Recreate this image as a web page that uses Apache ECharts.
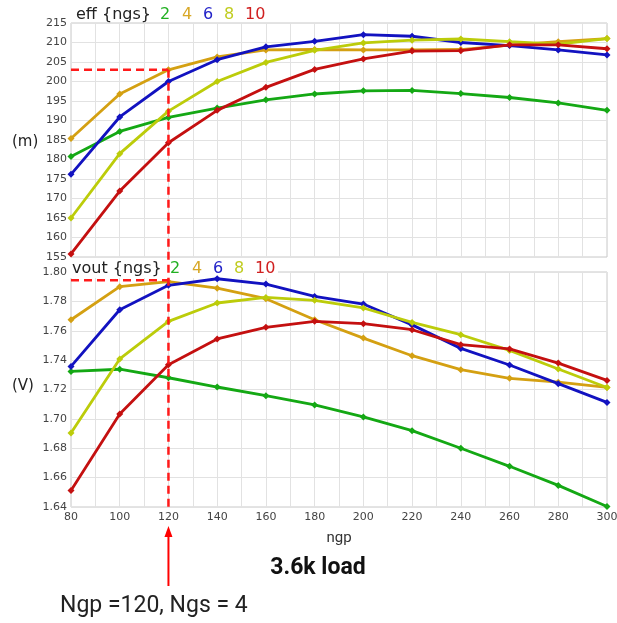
<!DOCTYPE html>
<html>
<head>
<meta charset="utf-8">
<script src="https://cdn.jsdelivr.net/npm/echarts@6/dist/echarts.min.js"></script>
<style>html,body{margin:0;padding:0;background:#fff}#c{width:617px;height:623px}</style>
</head>
<body>
<div id="c"></div>
<script>
// ---- data ----
const ngp = [80, 100, 120, 140, 160, 180, 200, 220, 240, 260, 280, 300];
const ngsLabels = ['2', '4', '6', '8', '10'];
const eff2  = [180.8, 187.2, 190.8, 193.2, 195.3, 196.8, 197.6, 197.7, 196.9, 195.9, 194.5, 192.6];
const eff4  = [185.4, 196.8, 203.0, 206.3, 208.1, 208.2, 208.1, 208.1, 208.2, 209.3, 210.2, 211.0];
const eff6  = [176.2, 190.9, 200.0, 205.6, 208.9, 210.3, 212.0, 211.6, 210.0, 209.2, 208.1, 206.8];
const eff8  = [165.0, 181.5, 192.4, 200.0, 204.9, 208.0, 209.9, 210.6, 210.9, 210.2, 209.6, 211.0];
const eff10 = [155.8, 171.9, 184.3, 192.6, 198.5, 203.1, 205.8, 207.8, 207.9, 209.4, 209.4, 208.4];
const vout2  = [1.7323, 1.7338, 1.7280, 1.7217, 1.7158, 1.7095, 1.7013, 1.6920, 1.6800, 1.6677, 1.6547, 1.6404];
const vout4  = [1.7675, 1.7900, 1.7934, 1.7890, 1.7818, 1.7675, 1.7550, 1.7430, 1.7335, 1.7276, 1.7250, 1.7214];
const vout6  = [1.7357, 1.7743, 1.7909, 1.7954, 1.7918, 1.7834, 1.7782, 1.7640, 1.7480, 1.7367, 1.7240, 1.7112];
const vout8  = [1.6904, 1.7408, 1.7664, 1.7789, 1.7827, 1.7807, 1.7755, 1.7657, 1.7573, 1.7466, 1.7340, 1.7214];
const vout10 = [1.6513, 1.7033, 1.7369, 1.7544, 1.7623, 1.7664, 1.7648, 1.7607, 1.7505, 1.7476, 1.7380, 1.7262];
const selNgp = 120, selEff = 203, selVout = 1.7943;

const colors = ['#14a814', '#d4a012', '#1212c0', '#bccc0a', '#c41010'];
const textColors = ['#22b022', '#d8a828', '#2222c8', '#c0cc20', '#d02020'];
const effSets = [eff2, eff4, eff6, eff8, eff10];
const voutSets = [vout2, vout4, vout6, vout8, vout10];

const chart = echarts.init(document.getElementById('c'));
const pair = (arr) => ngp.map((x, i) => [x, arr[i]]);

function xAx(gi, showLabel) {
  return {
    type: 'value', gridIndex: gi, min: 80, max: 300, interval: 20,
    name: showLabel ? 'ngp' : '', nameLocation: 'middle', nameGap: 24,
    nameTextStyle: { fontFamily: 'Roboto', fontSize: 15, color: '#333' },
    axisLine: { show: false }, axisTick: { show: false },
    axisLabel: { show: showLabel, fontFamily: 'DejaVu Sans', fontSize: 11, color: '#444', margin: 5 },
    splitLine: { show: true, lineStyle: { color: '#e2e2e2', width: 1 } },
    minorTick: { show: false, splitNumber: 2 },
    minorSplitLine: { show: true, lineStyle: { color: '#e2e2e2', width: 1 } }
  };
}
function yAx(gi, min, max, interval, fmt) {
  return {
    type: 'value', gridIndex: gi, min: min, max: max, interval: interval,
    axisLine: { show: false }, axisTick: { show: false },
    axisLabel: { fontFamily: 'DejaVu Sans', fontSize: 11, color: '#444', margin: 4, formatter: fmt },
    splitLine: { show: true, lineStyle: { color: '#e2e2e2', width: 1 } }
  };
}

const series = [];
effSets.forEach((d, i) => series.push({
  type: 'line', xAxisIndex: 0, yAxisIndex: 0, data: pair(d), name: 'eff' + ngsLabels[i],
  lineStyle: { color: colors[i], width: 2.8 }, itemStyle: { color: colors[i] },
  symbol: 'diamond', symbolSize: 7, showSymbol: true, animation: false, z: 3 + i
}));
voutSets.forEach((d, i) => series.push({
  type: 'line', xAxisIndex: 1, yAxisIndex: 1, data: pair(d), name: 'vout' + ngsLabels[i],
  lineStyle: { color: colors[i], width: 2.8 }, itemStyle: { color: colors[i] },
  symbol: 'diamond', symbolSize: 7, showSymbol: true, animation: false, z: 3 + i
}));

chart.setOption({
  animation: false,
  grid: [
    { left: 71, right: 10, top: 23, height: 234, show: true, borderColor: '#c8c8c8', borderWidth: 1, backgroundColor: 'transparent', containLabel: false, outerBoundsMode: 'none' },
    { left: 71, right: 10, top: 272, height: 235, show: true, borderColor: '#c8c8c8', borderWidth: 1, backgroundColor: 'transparent', containLabel: false, outerBoundsMode: 'none' }
  ],
  xAxis: [xAx(0, false), xAx(1, true)],
  yAxis: [
    yAx(0, 155, 215, 5, v => String(Math.round(v))),
    yAx(1, 1.64, 1.80, 0.02, v => v.toFixed(2))
  ],
  series: series
});

// ---- annotations ----
const p1 = chart.convertToPixel({ gridIndex: 0 }, [selNgp, selEff]);
const p0 = chart.convertToPixel({ gridIndex: 0 }, [80, selEff]);
const q1 = chart.convertToPixel({ gridIndex: 1 }, [selNgp, selVout]);
const q0 = chart.convertToPixel({ gridIndex: 1 }, [80, selVout]);
const qb = chart.convertToPixel({ gridIndex: 1 }, [selNgp, 1.64]);
const dash = { stroke: '#ff1a1a', lineWidth: 2.5, lineDash: [8, 5] };
const x = p1[0];

const graphics = [
  { type: 'rect', shape: { x: 70, y: 258, width: 208, height: 20 }, style: { fill: '#fff' }, z: 1 },
  { type: 'text', left: 76, top: 7, style: { text: 'eff {ngs}', fontFamily: 'DejaVu Sans', fontSize: 16, fill: '#222' }, z: 20 },
  { type: 'text', left: 72, top: 261, style: { text: 'vout {ngs}', fontFamily: 'DejaVu Sans', fontSize: 16, fill: '#222' }, z: 20 },
  { type: 'text', left: 12, top: 135, style: { text: '(m)', fontFamily: 'DejaVu Sans', fontSize: 15, fill: '#222' }, z: 20 },
  { type: 'text', left: 12, top: 379, style: { text: '(V)', fontFamily: 'DejaVu Sans', fontSize: 15, fill: '#222' }, z: 20 },
  { type: 'line', shape: { x1: p0[0], y1: p0[1], x2: p1[0], y2: p1[1] }, style: dash, z: 30 },
  { type: 'line', shape: { x1: q0[0], y1: q0[1], x2: q1[0], y2: q1[1] }, style: dash, z: 30 },
  { type: 'line', shape: { x1: x, y1: p1[1], x2: x, y2: qb[1] }, style: dash, z: 30 },
  { type: 'line', shape: { x1: x, y1: 586, x2: x, y2: 534 }, style: { stroke: '#ff0000', lineWidth: 2 }, z: 30 },
  { type: 'polygon', shape: { points: [[x, 526], [x - 4, 537], [x + 4, 537]] }, style: { fill: '#ff0000' }, z: 30 },
  { type: 'text', x: 318, y: 568, style: { text: '3.6k load', fontFamily: 'Roboto', fontWeight: 'bold', fontSize: 23, fill: '#111', align: 'center', verticalAlign: 'middle' }, z: 20 },
  { type: 'text', x: 60, y: 606, style: { text: 'Ngp =120, Ngs = 4', fontFamily: 'Roboto', fontSize: 23, fill: '#222', align: 'left', verticalAlign: 'middle' }, z: 20 }
];
const numX = [160, 182, 203, 224, 245];
ngsLabels.forEach((t, i) => {
  graphics.push({ type: 'text', left: numX[i], top: 7, style: { text: t, fontFamily: 'DejaVu Sans', fontSize: 16, fill: textColors[i] }, z: 20 });
  graphics.push({ type: 'text', left: numX[i] + 10, top: 261, style: { text: t, fontFamily: 'DejaVu Sans', fontSize: 16, fill: textColors[i] }, z: 20 });
});
chart.setOption({ graphic: graphics });
</script>
</body>
</html>
